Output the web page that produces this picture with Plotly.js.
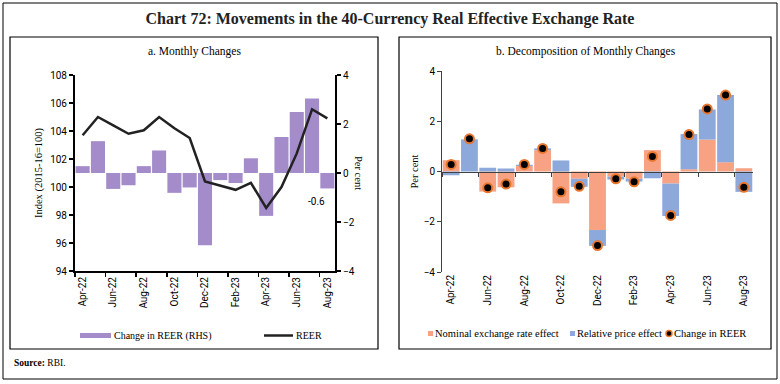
<!DOCTYPE html>
<html><head><meta charset="utf-8">
<script src="https://cdn.plot.ly/plotly-3.0.1.min.js"></script>
<style>html,body{margin:0;padding:0;background:#fff}#chart{width:780px;height:384px}</style>
</head><body><div id="chart"></div>
<script>
// ---- data ----
const months = ['Apr-22','May-22','Jun-22','Jul-22','Aug-22','Sep-22','Oct-22','Nov-22','Dec-22','Jan-23','Feb-23','Mar-23','Apr-23','May-23','Jun-23','Jul-23','Aug-23'];
const reerIndex = [103.7,105.0,104.4,103.8,104.05,105.0,104.2,103.5,100.4,100.1,99.8,100.3,98.5,100.0,102.4,105.55,104.9];
const reerChange = [0.28,1.3,-0.65,-0.5,0.28,0.92,-0.81,-0.59,-2.95,-0.29,-0.41,0.6,-1.75,1.47,2.49,3.04,-0.63];
const nominalEffect = [0.45,0.0,-0.8,-0.63,0.22,0.85,-1.27,-0.29,-2.33,-0.2,-0.29,0.85,-0.48,0.09,1.27,0.37,0.13];
const relativeEffect = [-0.15,1.28,0.15,0.12,0.05,0.07,0.44,-0.32,-0.63,-0.12,-0.11,-0.27,-1.29,1.4,1.2,2.67,-0.81];
const leftTitle = 'a. Monthly Changes';
const rightTitle = 'b. Decomposition of Monthly Changes';

// ---- helpers (pixel -> paper) ----
const W = 780, H = 384;
const fx = p => p / W;
const fy = p => 1 - p / H;

const serif = 'Liberation Serif, DejaVu Serif, serif';
const sans = 'Roboto, Liberation Sans, sans-serif';
const purple = '#A48CCB', orange = '#F6A283', blue = '#8DA9DB', dotEdge = '#E9772E';

const catRange = [-0.5, months.length - 0.5];
const rY = [-4, 4];
const rDomain = [fy(272), fy(71)];
const zeroPos = rDomain[0] + (0 - rY[0]) / (rY[1] - rY[0]) * (rDomain[1] - rDomain[0]);

const tickFont = {family: sans, size: 10, color: '#000'};

const traces = [
  {type: 'bar', x: months, y: reerChange, xaxis: 'x', yaxis: 'y', marker: {color: purple},
   name: 'Change in REER (RHS)', showlegend: false},
  {type: 'scatter', mode: 'lines', x: months, y: reerIndex, xaxis: 'x', yaxis: 'y2',
   line: {color: '#222', width: 2.5}, name: 'REER', showlegend: false},
  {type: 'bar', x: months, y: nominalEffect, xaxis: 'x2', yaxis: 'y3', marker: {color: orange},
   name: 'Nominal exchange rate effect', showlegend: false},
  {type: 'bar', x: months, y: relativeEffect, xaxis: 'x2', yaxis: 'y3', marker: {color: blue},
   name: 'Relative price effect', showlegend: false},
  {type: 'scatter', mode: 'markers', x: months, y: reerChange, xaxis: 'x4', yaxis: 'y3',
   marker: {color: '#000', size: 9, line: {color: dotEdge, width: 2}},
   name: 'Change in REER', showlegend: false}
];

const catAxis = {type: 'category', categoryorder: 'array', categoryarray: months, range: catRange,
  showgrid: false, zeroline: false};

function note(x, y, text, font, extra) {
  return Object.assign({xref: 'paper', yref: 'paper', x: fx(x), y: fy(y), text: text, showarrow: false,
    xanchor: 'center', yanchor: 'middle', font: font}, extra || {});
}
const legFontL = {family: serif, size: 10, color: '#000'};
const legFontR = {family: serif, size: 10.5, color: '#000'};

const layout = {
  width: W, height: H, margin: {l: 0, r: 0, t: 0, b: 0},
  paper_bgcolor: '#fff', plot_bgcolor: 'rgba(0,0,0,0)',
  barmode: 'relative', bargap: 0.08, showlegend: false,
  title: {text: 'Chart 72: Movements in the 40-Currency Real Effective Exchange Rate',
    x: 0.5, xanchor: 'center', y: fy(18), yanchor: 'middle', yref: 'container',
    font: {family: serif, size: 16, color: '#222', weight: 'bold'}},
  xaxis: Object.assign({}, catAxis, {domain: [fx(75), fx(335)], anchor: 'y',
    tickmode: 'linear', tick0: 0, dtick: 2, tickson: 'boundaries', ticks: 'outside', ticklen: 4,
    tickcolor: '#000', tickwidth: 1.5, tickangle: -90, tickfont: tickFont,
    showline: true, linecolor: '#000', linewidth: 2}),
  yaxis: {domain: [fy(271), fy(75)], anchor: 'x', side: 'right', range: [-4, 4], dtick: 2,
    ticks: 'outside', ticklen: 4, tickcolor: '#000', tickwidth: 1.5, tickfont: tickFont,
    showline: true, linecolor: '#000', linewidth: 2, showgrid: false, zeroline: false},
  yaxis2: {overlaying: 'y', anchor: 'x', side: 'left', range: [94, 108], dtick: 2,
    ticks: 'outside', ticklen: 4, tickcolor: '#000', tickwidth: 1.5, tickfont: tickFont,
    showline: true, linecolor: '#000', linewidth: 2, showgrid: false, zeroline: false,
    title: {text: 'Index (2015-16=100)', font: {family: serif, size: 10.5, color: '#000'}, standoff: 5}},
  xaxis2: Object.assign({}, catAxis, {domain: [fx(442), fx(753)], anchor: 'y3',
    tickmode: 'linear', tick0: 0, dtick: 2, ticks: '', tickangle: -90, tickfont: tickFont,
    showline: false}),
  xaxis4: Object.assign({}, catAxis, {overlaying: 'x2', anchor: 'free', position: zeroPos,
    tickmode: 'linear', tick0: 0, dtick: 2, tickson: 'boundaries', ticks: 'outside', ticklen: 4,
    tickcolor: '#404040', showticklabels: false, showline: true, linecolor: '#404040', linewidth: 1}),
  yaxis3: {domain: rDomain, anchor: 'x2', range: rY, dtick: 2,
    ticks: 'outside', ticklen: 4, tickcolor: '#404040', tickfont: tickFont,
    showline: true, linecolor: '#404040', linewidth: 1, showgrid: false, zeroline: false,
    title: {text: 'Per cent', font: {family: serif, size: 10.5, color: '#000'}, standoff: 2}},
  shapes: [
    {type: 'rect', xref: 'paper', yref: 'paper', x0: fx(3), x1: fx(777), y0: fy(379), y1: fy(3),
     line: {color: '#000', width: 1}},
    {type: 'rect', xref: 'paper', yref: 'paper', x0: fx(10), x1: fx(378), y0: fy(349), y1: fy(37),
     line: {color: '#000', width: 1.2}},
    {type: 'rect', xref: 'paper', yref: 'paper', x0: fx(399), x1: fx(771), y0: fy(349), y1: fy(37),
     line: {color: '#000', width: 1.2}},
    // legend swatches
    {type: 'rect', xref: 'paper', yref: 'paper', x0: fx(80), x1: fx(111), y0: fy(338), y1: fy(333),
     fillcolor: purple, line: {width: 0}},
    {type: 'line', xref: 'paper', yref: 'paper', x0: fx(264), x1: fx(293), y0: fy(335.5), y1: fy(335.5),
     line: {color: '#222', width: 2.5}},
    {type: 'rect', xref: 'paper', yref: 'paper', x0: fx(428), x1: fx(433), y0: fy(336), y1: fy(331),
     fillcolor: orange, line: {width: 0}},
    {type: 'rect', xref: 'paper', yref: 'paper', x0: fx(570), x1: fx(575), y0: fy(336), y1: fy(331),
     fillcolor: blue, line: {width: 0}},
    {type: 'circle', xref: 'paper', yref: 'paper', x0: fx(666), x1: fx(672), y0: fy(336.5), y1: fy(330.5),
     fillcolor: '#000', line: {color: dotEdge, width: 1.5}}
  ],
  annotations: [
    note(194, 52, leftTitle, {family: serif, size: 11.5, color: '#000'}),
    note(586, 52, rightTitle, {family: serif, size: 11.5, color: '#000'}),
    note(358, 173, 'Per cent', {family: serif, size: 10.5, color: '#000'}, {textangle: 90}),
    {xref: 'x', yref: 'y', x: months[months.length - 1], y: reerChange[reerChange.length - 1],
     text: reerChange[reerChange.length - 1].toFixed(1), showarrow: false, xanchor: 'right', yanchor: 'top',
     xshift: 0, yshift: -6, font: {family: sans, size: 10, color: '#000'}},
    note(12, 363, '<b>Source:</b> RBI.', {family: serif, size: 9.5, color: '#000'}, {xanchor: 'left'}),
    note(112, 335.5, 'Change in REER (RHS)', legFontL, {xanchor: 'left'}),
    note(294, 335.5, 'REER', legFontL, {xanchor: 'left'}),
    note(432.5, 333.5, 'Nominal exchange rate effect', legFontR, {xanchor: 'left'}),
    note(574.5, 333.5, 'Relative price effect', legFontR, {xanchor: 'left'}),
    note(672, 333.5, 'Change in REER', legFontR, {xanchor: 'left'})
  ]
};

Plotly.newPlot('chart', traces, layout, {staticPlot: true, displayModeBar: false});
</script>
</body></html>
